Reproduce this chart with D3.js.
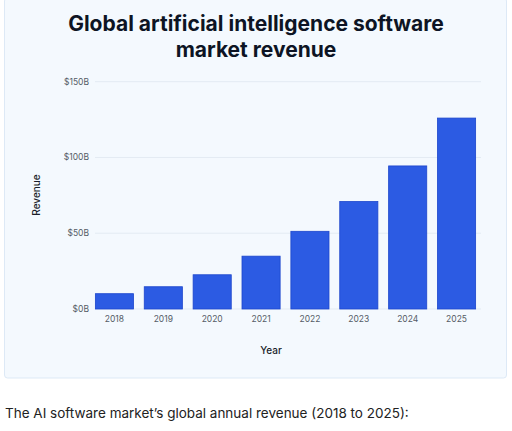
<!DOCTYPE html><html><head><meta charset="utf-8"><script src="https://cdn.jsdelivr.net/npm/d3@7"></script>
<style>body{margin:0;background:#fff;font-family:Inter,"Noto Sans",sans-serif}</style></head><body><svg id="c" width="512" height="431"></svg>
<script>
const years=["2018","2019","2020","2021","2022","2023","2024","2025"];
const revenue=[10.1,14.69,22.59,34.87,51.27,70.94,94.41,126];
const yTicks=[0,50,100,150];
const svg=d3.select("#c");
svg.append("rect").attr("x",4.5).attr("y",-2).attr("width",502).attr("height",380).attr("rx",3).attr("fill","#f4f9fe").attr("stroke","#dde9f6");
svg.append("text").attr("x",256).attr("y",31).attr("text-anchor","middle").attr("font-size",21).attr("font-weight",700).attr("fill","#0d1424").text("Global artificial intelligence software");
svg.append("text").attr("x",256).attr("y",57).attr("text-anchor","middle").attr("font-size",21).attr("font-weight",700).attr("fill","#0d1424").text("market revenue");
const x=d3.scaleBand().domain(years).range([90,481]).paddingInner(0.22).paddingOuter(0.11);
const y=d3.scaleLinear().domain([0,150]).range([309,81.7]);
const g=svg.append("g");
g.selectAll("line.grid").data(yTicks).join("line").attr("x1",95).attr("x2",481).attr("y1",d=>y(d)).attr("y2",d=>y(d)).attr("stroke","#e3ebf3");
g.selectAll("text.yt").data(yTicks).join("text").attr("x",89).attr("y",d=>y(d)+3).attr("text-anchor","end").attr("font-size",8.5).attr("fill","#555c66").text(d=>"$"+d+"B");
g.selectAll("rect.bar").data(revenue).join("rect").attr("x",(d,i)=>x(years[i])).attr("width",x.bandwidth()).attr("y",d=>y(d)).attr("height",d=>y(0)-y(d)).attr("fill","#2c5be3").attr("stroke","#1c46cc").attr("stroke-width",0.8);
g.selectAll("text.xt").data(years).join("text").attr("x",d=>x(d)+x.bandwidth()/2).attr("y",322).attr("text-anchor","middle").attr("font-size",8.5).attr("fill","#555c66").text(d=>d);
svg.append("text").attr("transform","translate(40,195) rotate(-90)").attr("text-anchor","middle").attr("font-size",10).attr("font-weight",500).attr("fill","#1a1f2b").text("Revenue");
svg.append("text").attr("x",271).attr("y",354).attr("text-anchor","middle").attr("font-size",10).attr("font-weight",500).attr("fill","#1a1f2b").text("Year");
svg.append("text").attr("x",5).attr("y",418).attr("font-size",13.5).attr("fill","#222").text("The AI software market’s global annual revenue (2018 to 2025):");
</script></body></html>
